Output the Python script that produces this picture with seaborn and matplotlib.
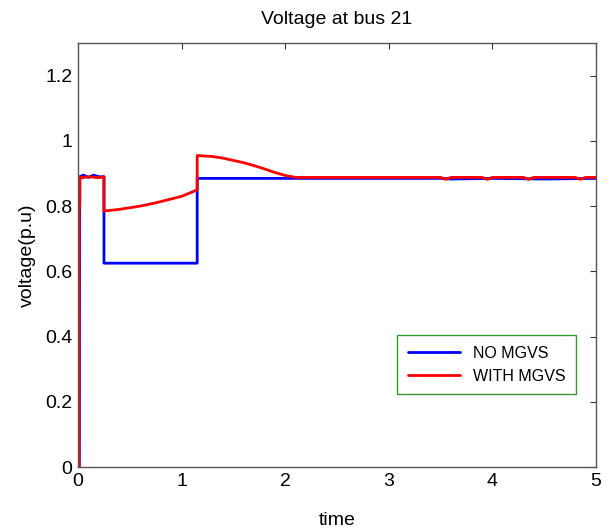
import pandas as pd
import seaborn as sns
from matplotlib import pyplot as plt

# voltage at bus 21
t_no = [0.012, 0.016, 0.05, 0.1, 0.15, 0.2, 0.25, 0.25, 0.6, 1.0, 1.15, 1.15, 2.0, 3.0, 3.5, 3.6, 4.0, 4.5, 5.0]
v_no = [0, 0.89, 0.895, 0.888, 0.895, 0.89, 0.89, 0.625, 0.625, 0.625, 0.625, 0.885, 0.885, 0.885, 0.885, 0.883, 0.885, 0.883, 0.885]

t_with = [0.01, 0.012, 0.016, 0.018, 0.03, 0.1, 0.2, 0.25, 0.25, 0.4, 0.5, 0.6, 0.75, 0.9, 1.0, 1.1, 1.15, 1.15,
          1.3, 1.4, 1.5, 1.6, 1.7, 1.8, 1.9, 2.0, 2.1, 2.5, 3.0, 3.5, 3.55, 3.6, 3.9, 3.95, 4.0, 4.3, 4.35, 4.4,
          4.8, 4.85, 4.9, 5.0]
v_with = [0, 0.8, 0.8, 0.89, 0.887, 0.89, 0.887, 0.89, 0.785, 0.79, 0.795, 0.80, 0.81, 0.822, 0.83, 0.843, 0.85, 0.955,
          0.952, 0.947, 0.94, 0.933, 0.924, 0.914, 0.903, 0.894, 0.888, 0.888, 0.888, 0.888, 0.882, 0.888, 0.888, 0.882,
          0.888, 0.888, 0.882, 0.888, 0.888, 0.882, 0.888, 0.888]

df1 = pd.DataFrame({'time': t_no, 'v': v_no, 'case': 'NO MGVS'})
df2 = pd.DataFrame({'time': t_with, 'v': v_with, 'case': 'WITH MGVS'})
df = pd.concat([df1, df2], ignore_index=True)

sns.set_style('white')
plt.rcParams['font.family'] = ['Liberation Sans', 'DejaVu Sans']
plt.rcParams['text.color'] = 'black'
plt.rcParams['axes.labelcolor'] = 'black'
plt.rcParams['xtick.labelcolor'] = 'black'
plt.rcParams['ytick.labelcolor'] = 'black'

fig = plt.figure(figsize=(6.1, 5.28), dpi=100)
ax = fig.add_axes([0.128, 0.1155, 0.849, 0.803])
sns.lineplot(data=df, x='time', y='v', hue='case', palette={'NO MGVS': 'blue', 'WITH MGVS': 'red'},
             estimator=None, sort=False, linewidth=2, ax=ax)

ax.set_xlim(0, 5)
ax.set_ylim(0, 1.3)
ax.set_xticks([0, 1, 2, 3, 4, 5])
ax.set_yticks([0, 0.2, 0.4, 0.6, 0.8, 1, 1.2])
ax.set_yticklabels(['0', '0.2', '0.4', '0.6', '0.8', '1', '1.2'])
ax.tick_params(direction='in', top=True, right=True, labelsize=14, length=4, color='#333333', pad=4)
for s in ax.spines.values():
    s.set_color('#555555')
    s.set_linewidth(1)
ax.set_title('Voltage at bus 21', fontsize=14, pad=14)
ax.set_xlabel('time', fontsize=14, labelpad=16)
ax.set_ylabel('voltage(p.u)', fontsize=14, labelpad=7)

leg = ax.legend(loc='lower right', bbox_to_anchor=(0.977, 0.153), fontsize=11.5, frameon=True,
                fancybox=False, handlelength=3.3, borderpad=0.65, labelspacing=0.5)
leg.get_frame().set_edgecolor('green')
leg.get_frame().set_linewidth(1)

fig.savefig('out.png', dpi=100)
